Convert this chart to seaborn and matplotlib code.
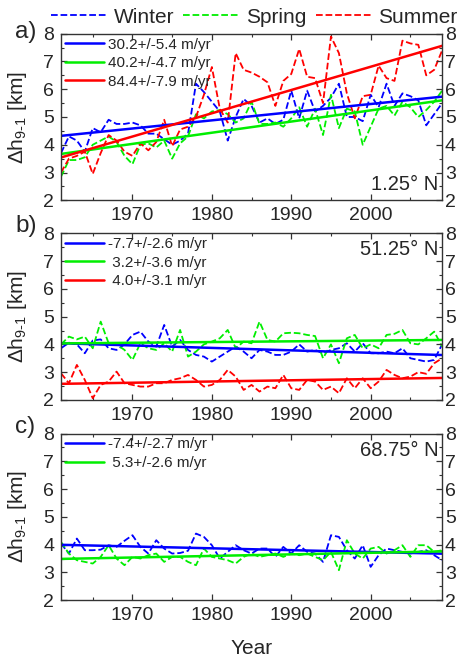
import numpy as np
import pandas as pd
import matplotlib
matplotlib.use("Agg")
import matplotlib.pyplot as plt
from matplotlib.ticker import MultipleLocator
import seaborn as sns

# data (km), one value per year 1961-2009
years = np.arange(1961, 2010)

winter_a = [3.7, 4.3, 4.15, 3.75, 4.6, 4.45, 4.9, 4.75, 4.75, 4.8,
            4.7, 4.4, 4.4, 4.2, 4.0, 4.15, 4.4, 6.2, 5.9, 5.55,
            5.2, 4.15, 5.0, 5.65, 5.4, 4.8, 4.95, 4.75, 4.9, 5.95,
            4.95, 5.95, 5.2, 5.4, 5.7, 6.2, 5.0, 5.0, 4.85, 5.8,
            5.35, 6.2, 5.4, 5.85, 5.75, 5.6, 4.7, 5.1, 5.5]
spring_a = [2.85, 3.45, 3.45, 3.55, 4.0, 4.15, 4.3, 4.1, 3.6, 3.3,
            4.0, 4.05, 3.9, 4.15, 3.5, 4.05, 4.3, 5.1, 4.95, 5.2,
            5.25, 5.1, 4.8, 4.95, 5.55, 4.75, 4.75, 4.8, 4.65, 4.95,
            5.35, 4.65, 5.3, 4.35, 5.8, 4.6, 5.3, 5.2, 4.0, 4.65,
            5.3, 5.4, 5.05, 5.55, 5.35, 5.0, 5.25, 5.55, 5.95]
summer_a = [3.0, 3.5, 3.6, 3.75, 2.95, 3.7, 4.35, 4.15, 3.75, 3.6,
            4.05, 3.8, 4.1, 4.9, 3.95, 4.55, 4.65, 5.0, 5.8, 6.8,
            5.3, 4.8, 7.3, 6.7, 6.6, 6.45, 6.25, 5.4, 6.3, 6.55,
            7.45, 6.45, 6.4, 5.5, 7.9, 7.3, 5.85, 4.95, 5.75, 5.8,
            6.85, 6.4, 6.3, 7.75, 7.65, 7.6, 6.5, 6.7, 7.4]

winter_b = [3.86, 4.06, 4.0, 3.68, 4.14, 4.18, 3.86, 3.8, 4.0, 4.34,
            4.46, 4.1, 3.92, 4.7, 3.92, 4.16, 3.8, 3.62, 3.56, 3.38,
            3.56, 3.74, 3.92, 3.74, 3.5, 3.8, 3.74, 3.62, 3.62, 3.74,
            4.0, 3.74, 3.8, 3.68, 3.8, 3.86, 4.04, 3.74, 4.04, 3.68,
            3.68, 3.74, 3.68, 3.86, 3.5, 3.44, 3.38, 3.44, 4.0]
spring_b = [4.0, 4.28, 4.18, 4.28, 3.86, 4.82, 4.04, 4.0, 3.8, 3.44,
            4.04, 3.86, 3.8, 4.04, 3.74, 4.52, 3.56, 3.74, 4.0, 4.1,
            4.22, 4.52, 3.86, 4.1, 4.04, 4.82, 4.16, 4.1, 4.4, 4.42,
            4.4, 4.34, 4.3, 3.5, 4.0, 3.32, 4.22, 4.34, 3.86, 4.0,
            3.86, 4.34, 4.38, 4.52, 4.04, 4.0, 4.22, 4.46, 3.92]
summer_b = [2.96, 2.6, 3.26, 2.72, 2.06, 2.54, 2.66, 3.02, 2.6, 2.54,
            2.48, 2.48, 2.6, 2.6, 2.72, 2.78, 2.9, 2.72, 2.48, 2.54,
            2.72, 3.08, 2.84, 2.36, 2.54, 2.3, 2.48, 2.42, 2.9, 2.42,
            2.36, 2.72, 2.66, 2.36, 2.48, 2.24, 2.78, 2.42, 2.78, 2.42,
            2.66, 3.08, 2.9, 2.78, 2.84, 3.0, 2.94, 3.32, 3.5]

winter_c = [4.04, 3.68, 4.22, 3.8, 3.8, 3.82, 3.98, 3.92, 4.14, 4.34,
            3.92, 3.68, 4.16, 3.86, 3.68, 3.7, 3.78, 4.4, 4.28, 3.98,
            3.5, 3.74, 3.98, 3.8, 3.68, 3.86, 3.86, 3.56, 3.92, 3.68,
            3.98, 3.74, 3.68, 3.38, 4.34, 4.28, 3.8, 3.5, 3.98, 3.2,
            3.62, 3.86, 3.8, 3.74, 3.68, 3.74, 3.8, 3.62, 3.44]
spring_c = [4.1, 3.68, 3.44, 3.38, 3.32, 3.56, 3.98, 3.5, 3.26, 3.56,
            3.5, 3.62, 3.68, 3.38, 3.56, 3.56, 3.38, 3.26, 3.86, 3.56,
            3.5, 3.44, 3.32, 3.56, 3.68, 3.56, 3.62, 3.68, 3.56, 3.68,
            3.62, 3.68, 3.56, 3.44, 3.74, 3.08, 4.16, 3.68, 3.5, 3.86,
            3.92, 3.68, 3.8, 3.98, 3.56, 3.98, 3.98, 3.74, 3.8]

trend_a = ["30.2+/-5.4 m/yr", "40.2+/-4.7 m/yr", "84.4+/-7.9 m/yr"]
trend_b = ["-7.7+/-2.6 m/yr", " 3.2+/-3.6 m/yr", " 4.0+/-3.1 m/yr"]
trend_c = ["-7.4+/-2.7 m/yr", " 5.3+/-2.6 m/yr"]

seasons = ["Winter", "Spring", "Summer"]
colors = ["#0000ff", "#00ee00", "#ff0000"]

panels = [
    ("a)", "1.25° N", [winter_a, spring_a, summer_a], trend_a, "bottom"),
    ("b)", "51.25° N", [winter_b, spring_b, summer_b], trend_b, "top"),
    ("c)", "68.75° N", [winter_c, spring_c], trend_c, "top"),
]

sns.set_style("ticks")
plt.rcParams["font.family"] = ["Liberation Sans", "DejaVu Sans"]
plt.rcParams["mathtext.fontset"] = "custom"
plt.rcParams["mathtext.rm"] = "Liberation Sans"
plt.rcParams["mathtext.it"] = "Liberation Sans"

fig = plt.figure(figsize=(4.62, 6.61), dpi=100)
boxes = [(0.132, 0.697), (0.132, 0.395), (0.132, 0.092)]
label_y = [0.952, 0.658, 0.354]

season_handles = []
for i, (tag, loc, series, trends, where) in enumerate(panels):
    ax = fig.add_axes([boxes[i][0], boxes[i][1], 0.825, 0.252])
    for j, vals in enumerate(series):
        df = pd.DataFrame({"year": years, "dh": vals})
        sns.lineplot(data=df, x="year", y="dh", ax=ax, color=colors[j],
                     linestyle="--", lw=1.3, legend=False)
        if i == 0:
            season_handles.append(ax.lines[-1])
    trend_handles = []
    for j, vals in enumerate(series):
        df = pd.DataFrame({"year": years, "dh": vals})
        sns.regplot(data=df, x="year", y="dh", ax=ax, scatter=False, ci=None,
                    color=colors[j], line_kws={"lw": 1.8}, label=trends[j])
        trend_handles.append(ax.lines[-1])

    ax.set_xlim(1961, 2009)
    ax.set_ylim(2, 8)
    ax.xaxis.set_major_locator(MultipleLocator(10))
    ax.xaxis.set_minor_locator(MultipleLocator(5))
    ax.yaxis.set_major_locator(MultipleLocator(1))
    ax.yaxis.set_minor_locator(MultipleLocator(0.5))
    ax.tick_params(which="both", direction="in", top=True, right=True,
                   labelsize=14, color="#333333")
    ax.tick_params(which="major", length=4.5, width=0.9)
    ax.tick_params(which="minor", length=2.5, width=0.8)
    ax.tick_params(axis="y", pad=5)
    ax.tick_params(axis="x", pad=5)
    ax.set_xticks([1970, 1980, 1990, 2000])
    for s in ax.spines.values():
        s.set_linewidth(1.0)
        s.set_color("#333333")

    # right-hand labels
    ax2 = ax.twinx()
    ax2.set_ylim(2, 8)
    ax2.yaxis.set_major_locator(MultipleLocator(1))
    ax2.yaxis.set_minor_locator(MultipleLocator(0.5))
    ax2.tick_params(which="both", direction="in", labelsize=14, pad=2,
                    color="#333333")
    ax2.tick_params(which="major", length=4.5, width=0.9)
    ax2.tick_params(which="minor", length=2.5, width=0.8)
    for s in ax2.spines.values():
        s.set_visible(False)

    ax.set_xlabel("Year" if i == 2 else "", fontsize=15, labelpad=11)
    ax.set_ylabel(r"$\Delta$h$_{\mathregular{9\text{-}1}}$ [km]", fontsize=15)
    ax.yaxis.set_label_coords(-0.085, 0.5)

    ax.legend(handles=trend_handles, loc="upper left", frameon=False,
              fontsize=11, handlelength=2.55, handletextpad=0.3,
              labelspacing=0.3, borderpad=0.1, borderaxespad=0.15)
    if where == "bottom":
        ax.text(0.99, 0.04, loc, transform=ax.transAxes, ha="right",
                va="bottom", fontsize=14.5)
    else:
        ax.text(0.99, 0.90, loc, transform=ax.transAxes, ha="right",
                va="center", fontsize=14.5)
    fig.text(0.033, label_y[i], tag, fontsize=17.5, va="center")

fig.legend(handles=season_handles, labels=seasons, loc="center",
           bbox_to_anchor=(0.55, 0.974), ncol=3, frameon=False,
           fontsize=15, handlelength=2.7, handletextpad=0.3,
           columnspacing=0.45, borderpad=0)

fig.savefig("out.png", dpi=100)
